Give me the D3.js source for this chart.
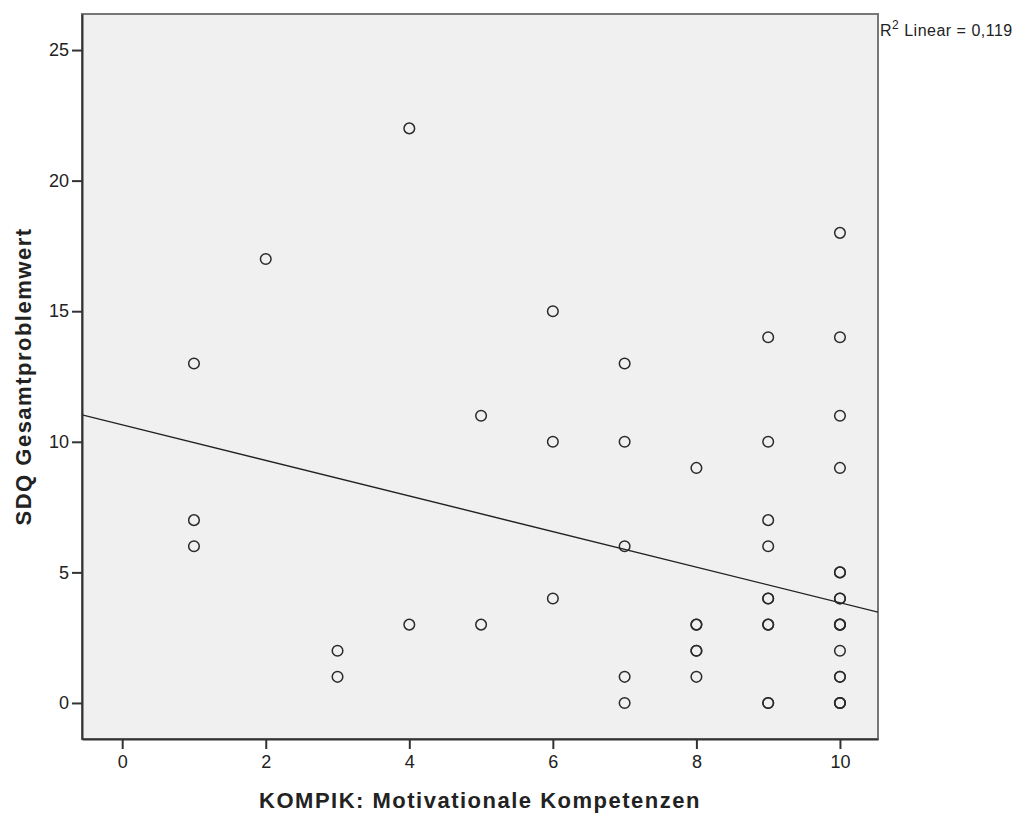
<!DOCTYPE html>
<html>
<head>
  <meta charset="utf-8">
  <title>SDQ vs KOMPIK</title>
  <style>
    body { margin: 0; background: #fff; }
    svg text { font-family: "Liberation Sans", Arial, sans-serif; fill: #222; }
  </style>
</head>
<body>
<svg id="chart" width="1028" height="817"></svg>

<script src="https://cdn.jsdelivr.net/npm/d3@7/dist/d3.min.js"></script>
<script>
  // one entry per case; repeated pairs are overlapping points
  var kompik = [1, 1, 1,
                2,
                3, 3,
                4, 4,
                5, 5,
                6, 6, 6,
                7, 7, 7, 7, 7,
                8, 8, 8, 8, 8, 8,
                9, 9, 9, 9, 9, 9, 9, 9, 9, 9,
                10, 10, 10, 10, 10, 10, 10, 10, 10, 10, 10, 10, 10, 10, 10, 10, 10];
  var sdq    = [13, 7, 6,
                17,
                2, 1,
                22, 3,
                11, 3,
                15, 10, 4,
                13, 10, 6, 1, 0,
                9, 3, 3, 2, 2, 1,
                14, 10, 7, 6, 4, 4, 3, 3, 0, 0,
                18, 14, 11, 9, 5, 5, 4, 4, 3, 3, 3, 2, 1, 1, 0, 0, 0];

  var xTicks = [0, 2, 4, 6, 8, 10];
  var yTicks = [0, 5, 10, 15, 20, 25];

  // fit line as shown in the picture
  var fitIntercept = 10.65;
  var fitSlope = -0.681;
  var rSquared = '0,119';

  var svg = d3.select('#chart');
  var plotL = 82, plotR = 878, plotT = 14, plotB = 739;

  var x = d3.scaleLinear().domain([-0.56, 10.53]).range([plotL, plotR]);
  var y = d3.scaleLinear().domain([-1.38, 26.38]).range([plotB, plotT]);

  // plot area
  svg.append('rect')
    .attr('x', plotL).attr('y', plotT)
    .attr('width', plotR - plotL).attr('height', plotB - plotT)
    .attr('fill', '#f0f0f0')
    .attr('stroke', '#777')
    .attr('stroke-width', 2);

  svg.append('defs').append('clipPath').attr('id', 'plotclip')
    .append('rect')
    .attr('x', plotL).attr('y', plotT)
    .attr('width', plotR - plotL).attr('height', plotB - plotT);

  // fit line
  var xd = x.domain();
  svg.append('line')
    .attr('clip-path', 'url(#plotclip)')
    .attr('x1', x(xd[0])).attr('y1', y(fitIntercept + fitSlope * xd[0]))
    .attr('x2', x(xd[1])).attr('y2', y(fitIntercept + fitSlope * xd[1]))
    .attr('stroke', '#222')
    .attr('stroke-width', 1.4);

  // points
  svg.append('g').selectAll('circle')
    .data(d3.range(kompik.length))
    .enter().append('circle')
      .attr('cx', function(i) { return x(kompik[i]); })
      .attr('cy', function(i) { return y(sdq[i]); })
      .attr('r', 5.3)
      .attr('fill', 'none')
      .attr('stroke', '#2a2a2a')
      .attr('stroke-width', 1.5);

  // axes
  var xAxis = svg.append('g')
    .attr('transform', 'translate(0,' + plotB + ')')
    .call(d3.axisBottom(x).tickValues(xTicks).tickSizeInner(10).tickSizeOuter(0).tickPadding(6));
  var yAxis = svg.append('g')
    .attr('transform', 'translate(' + plotL + ',0)')
    .call(d3.axisLeft(y).tickValues(yTicks).tickSizeInner(10).tickSizeOuter(0).tickPadding(3));

  [xAxis, yAxis].forEach(function(ax) {
    ax.select('.domain').attr('stroke', '#333').attr('stroke-width', 2);
    ax.selectAll('.tick line').attr('stroke', '#333').attr('stroke-width', 2);
    ax.selectAll('.tick text')
      .attr('fill', '#333')
      .style('font-family', '"Liberation Sans", Arial, sans-serif')
      .style('font-size', '18px');
  });

  // axis titles
  svg.append('text')
    .attr('x', (plotL + plotR) / 2)
    .attr('y', 808)
    .attr('text-anchor', 'middle')
    .style('font-size', '22px')
    .style('font-weight', 'bold')
    .style('letter-spacing', '1.5px')
    .text('KOMPIK: Motivationale Kompetenzen');

  svg.append('text')
    .attr('transform', 'translate(31,' + (plotT + plotB) / 2 + ') rotate(-90)')
    .attr('text-anchor', 'middle')
    .style('font-size', '22px')
    .style('font-weight', 'bold')
    .style('letter-spacing', '1.5px')
    .text('SDQ Gesamtproblemwert');

  // R² label
  var r2 = svg.append('text')
    .attr('x', 880)
    .attr('y', 36)
    .style('font-size', '16px')
    .style('letter-spacing', '0.5px');
  r2.append('tspan').text('R');
  r2.append('tspan').attr('dy', -7).style('font-size', '12px').text('2');
  r2.append('tspan').attr('dy', 7).text(' Linear = ' + rSquared);
</script>
</body>
</html>
